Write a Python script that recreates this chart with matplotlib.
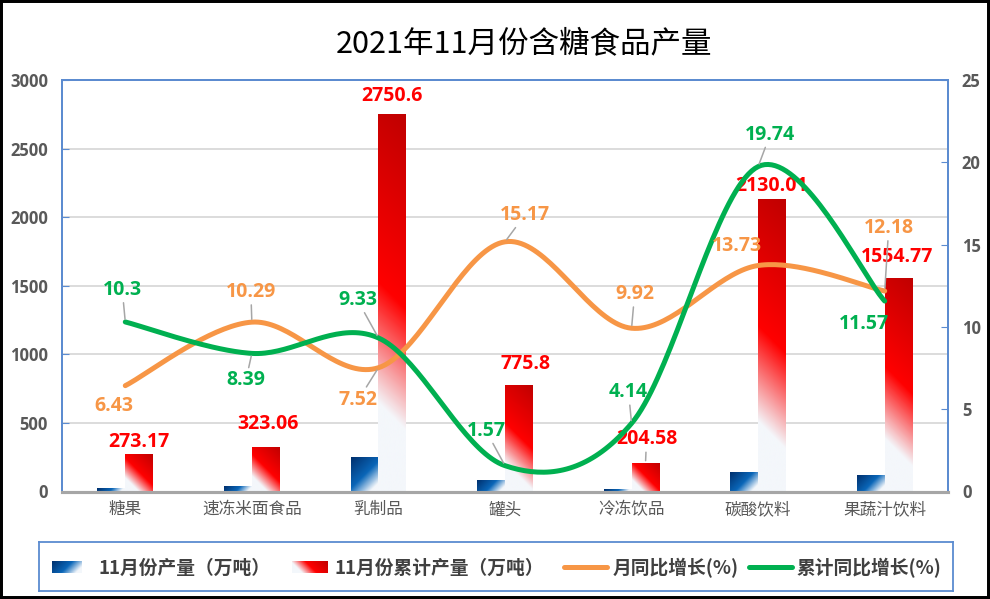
import numpy as np
import matplotlib
matplotlib.use('Agg')
import matplotlib.pyplot as plt
from matplotlib.colors import LinearSegmentedColormap
from matplotlib.patches import Rectangle
from matplotlib.lines import Line2D

# chart data
categories = ['糖果', '速冻米面食品', '乳制品', '罐头', '冷冻饮品', '碳酸饮料', '果蔬汁饮料']
month_output = [25, 40, 255, 84, 18, 140, 120]          # 11月份产量（万吨）
cum_output = [273.17, 323.06, 2750.6, 775.8, 204.58, 2130.01, 1554.77]
month_growth = [6.43, 10.29, 7.52, 15.17, 9.92, 13.73, 12.18]
cum_growth = [10.3, 8.39, 9.33, 1.57, 4.14, 19.74, 11.57]
legend_labels = ['11月份产量（万吨）', '11月份累计产量（万吨）', '月同比增长(%)', '累计同比增长(%)']
title = '2021年11月份含糖食品产量'

# label placement (pixel offsets from the point, y up) and leader line flags
orange_off = [(-11, -20), (-1, 30), (-20, -32), (20, 27), (3, 34), (-21, 20), (4, 63)]
orange_lead = [False, True, True, True, True, False, True]
green_off = [(-3, 32), (-6, -27), (-21, 38), (-19, 35), (-3, 31), (12, 32), (-21, -23)]
green_lead = [True, True, True, True, True, True, False]
red_off = [(0, 12), (2, 23), (0, 18), (7, 21), (1, 24), (0, 13), (-2, 21)]
red_lead = [False, False, False, False, True, False, False]

ORANGE = '#F79646'
GREEN = '#00B050'
RED = '#FF0000'
BLUE_EDGE = '#5B8BD0'
TICK_GRAY = '#595959'
CJK = ['Noto Sans CJK SC', 'DejaVu Sans']
NUM = ['Open Sans', 'DejaVu Sans']

W, H = 990, 599
fig = plt.figure(figsize=(W / 100, H / 100), dpi=100)
ax = fig.add_axes([62 / W, 1 - 491.5 / H, (948 - 62) / W, (491.5 - 80) / H])
ax2 = ax.twinx()

n = len(categories)
x = np.arange(n)
ax.set_xlim(-0.5, n - 0.5)
ax.set_ylim(0, 3000)
ax2.set_ylim(0, 25)

red_cmap = LinearSegmentedColormap.from_list(
    'redgrad', [(0, '#F4F7FB'), (0.22, '#F4F7FB'), (0.52, '#FF0000'), (1, '#C00000')])
blue_cmap = LinearSegmentedColormap.from_list(
    'bluegrad', [(0, '#F4F7FB'), (0.15, '#F4F7FB'), (0.5, '#0A66B8'), (1, '#002F6C')])


def gradient_rect(a, x0, y0, w, h, cmap, from_left, zorder=2):
    ''' fill a rectangle with a 45 degree gradient (in pixel space)'''
    (px0, py0), (px1, py1) = a.transData.transform([(x0, y0), (x0 + w, y0 + h)])
    wp, hp = abs(px1 - px0), abs(py1 - py0)
    nx, ny = max(int(wp * 2), 2), max(int(hp * 2), 2)
    u = (np.arange(nx) + 0.5) / nx
    v = 1 - (np.arange(ny) + 0.5) / ny
    U, V = np.meshgrid(u, v)
    if from_left:
        U = 1 - U
    s = (U * wp + V * hp) / (wp + hp)
    a.imshow(cmap(s), extent=[x0, x0 + w, y0, y0 + h], aspect='auto',
             interpolation='bilinear', zorder=zorder)


bw = 0.22
for i in range(n):
    gradient_rect(ax, x[i] - bw, 0, bw, month_output[i], blue_cmap, True)
    gradient_rect(ax, x[i], 0, bw, cum_output[i], red_cmap, False)

ax.set_xlim(-0.5, n - 0.5)
ax.set_ylim(0, 3000)


def smooth(xs, ys, steps=40):
    ''' excel-like smoothed line (catmull-rom) through the points'''
    p = np.column_stack([xs, ys]).astype(float)
    p = np.vstack([p[0], p, p[-1]])
    out = []
    for k in range(1, len(p) - 2):
        p0, p1, p2, p3 = p[k - 1], p[k], p[k + 1], p[k + 2]
        c1 = p1 + (p2 - p0) / 6
        c2 = p2 - (p3 - p1) / 6
        t = np.linspace(0, 1, steps)[:, None]
        seg = ((1 - t) ** 3) * p1 + 3 * ((1 - t) ** 2) * t * c1 + 3 * (1 - t) * t ** 2 * c2 + t ** 3 * p2
        out.append(seg if k == 1 else seg[1:])
    out = np.vstack(out)
    return out[:, 0], out[:, 1]


sx, sy = smooth(x, month_growth)
ax2.plot(sx, sy, color=ORANGE, lw=3.6, solid_capstyle='round', zorder=3)
sx, sy = smooth(x, cum_growth)
ax2.plot(sx, sy, color=GREEN, lw=3.6, solid_capstyle='round', zorder=4)


def label(a, xy, text, off, color, lead, size=14):
    kw = dict(xy=xy, xytext=(off[0], off[1]), textcoords='offset pixels',
              ha='center', va='center', color=color, fontsize=size,
              fontweight='bold', family=NUM, zorder=6, annotation_clip=False)
    if lead:
        kw['arrowprops'] = dict(arrowstyle='-', color='#A6A6A6', lw=1.1,
                                shrinkA=0, shrinkB=2)
    a.annotate(text, **kw)


for i in range(n):
    label(ax2, (x[i], month_growth[i]), f'{month_growth[i]:g}', orange_off[i], ORANGE, orange_lead[i])
    label(ax2, (x[i], cum_growth[i]), f'{cum_growth[i]:g}', green_off[i], GREEN, green_lead[i])
    label(ax, (x[i] + bw / 2, cum_output[i]), f'{cum_output[i]:g}', red_off[i], RED, red_lead[i])

# axes styling
ax.set_yticks(np.arange(0, 3001, 500))
ax2.set_yticks(np.arange(0, 26, 5))
ax.set_xticks(x)
ax.set_xticklabels(categories, family=CJK, fontsize=12, color=TICK_GRAY)
ax.tick_params(axis='x', length=0, pad=7)
ax.tick_params(axis='y', direction='in', length=5, color=BLUE_EDGE, pad=10,
               labelsize=12, labelcolor=TICK_GRAY)
ax2.tick_params(axis='y', direction='in', length=5, color=BLUE_EDGE, pad=10,
                labelsize=12, labelcolor=TICK_GRAY)
for t in ax.get_yticklabels() + ax2.get_yticklabels():
    t.set_fontweight('bold')
    t.set_family(NUM)
ax.yaxis.grid(True, color='#D9D9D9', lw=1.3)
ax.set_axisbelow(True)
for a in (ax, ax2):
    for side in ('top', 'left', 'right'):
        a.spines[side].set_color(BLUE_EDGE)
        a.spines[side].set_linewidth(1.3)
    a.spines['bottom'].set_color('#A6A6A6')
    a.spines['bottom'].set_linewidth(2.2)

fig.text(524 / W, 1 - 45 / H, title, ha='center', va='center', fontsize=22,
         family=CJK, color='black')

# legend drawn in its own box (pixel coordinates)
lax = fig.add_axes([39 / W, 1 - 591 / H, (953 - 39) / W, (591 - 542) / H])
lax.set_xlim(39, 953)
lax.set_ylim(591, 542)
lax.set_xticks([])
lax.set_yticks([])
for s in lax.spines.values():
    s.set_color(BLUE_EDGE)
    s.set_linewidth(1.3)
ly = 567
gradient_rect(lax, 52, ly + 6, 30, -12, blue_cmap, True)
gradient_rect(lax, 292, ly + 6, 36, -12, red_cmap, False)
lax.set_xlim(39, 953)
lax.set_ylim(591, 542)
lax.add_line(Line2D([564, 607], [ly, ly], color=ORANGE, lw=3.6, solid_capstyle='round'))
lax.add_line(Line2D([749, 792], [ly, ly], color=GREEN, lw=3.6, solid_capstyle='round'))
for tx, txt in zip([99, 334, 613, 797], legend_labels):
    lax.text(tx, ly + 1, txt, ha='left', va='center', fontsize=13.5, fontweight='bold',
             family=CJK, color='#404040')

fig.add_artist(Rectangle((0, 0), 1, 1, transform=fig.transFigure, fill=False,
                         edgecolor='black', lw=4.3, zorder=10))

fig.savefig('out.png', dpi=100)
